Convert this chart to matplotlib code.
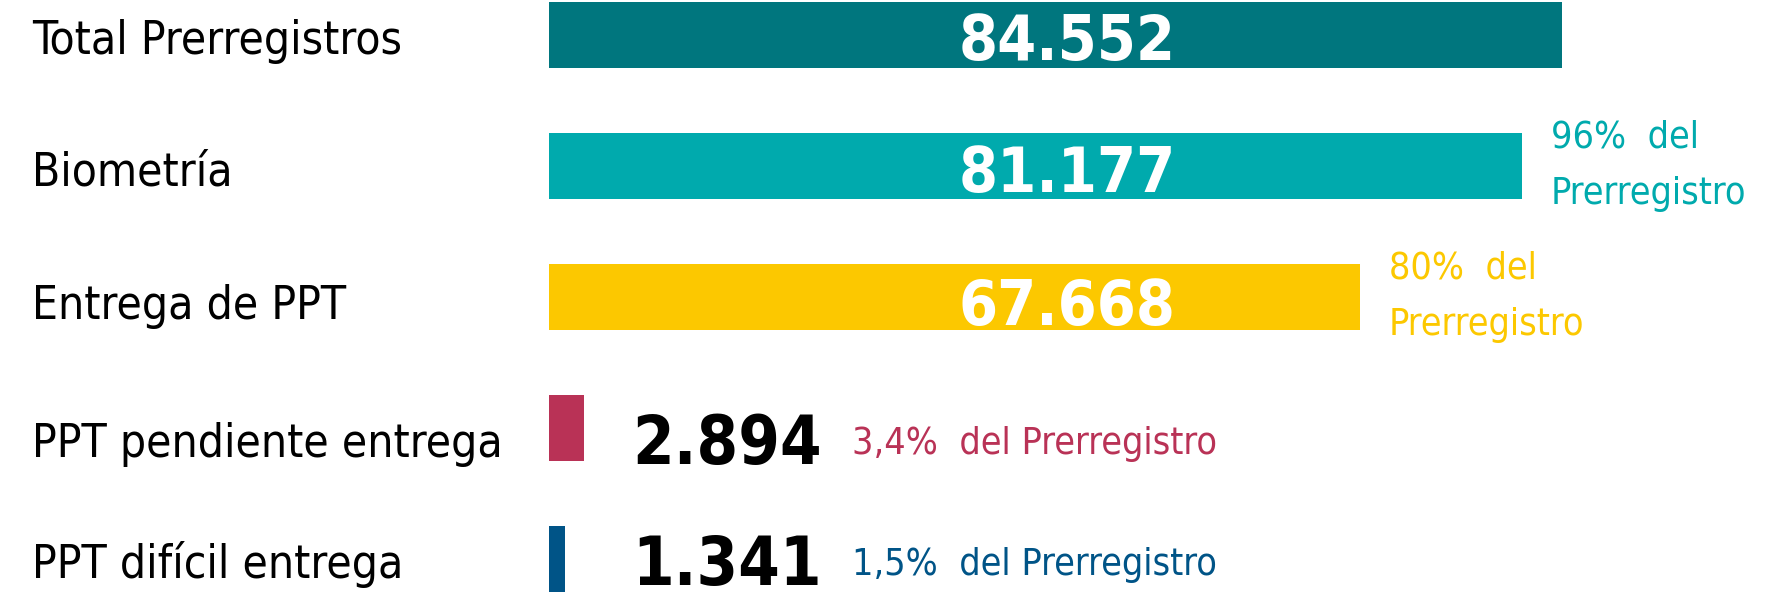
import matplotlib
matplotlib.use("Agg")
import matplotlib.pyplot as plt
import matplotlib.transforms as mtransforms

# data
categories = ["Total Prerregistros", "Biometría", "Entrega de PPT",
              "PPT pendiente entrega", "PPT difícil entrega"]
values = [84552, 81177, 67668, 2894, 1341]
value_labels = ["84.552", "81.177", "67.668", "2.894", "1.341"]
pct_labels = [None, "96%  del\nPrerregistro", "80%  del\nPrerregistro",
              "3,4%  del Prerregistro", "1,5%  del Prerregistro"]
colors = ["#00767E", "#00AAAD", "#FCC800", "#B93256", "#005487"]

plt.rcParams['font.family'] = ['DejaVu Sans Condensed', 'Liberation Sans Narrow',
                               'DejaVu Sans']
plt.rcParams['font.stretch'] = 'condensed'

fig = plt.figure(figsize=(17.71, 5.93), dpi=100)
# bars start at x=549px, full bar ends at 1562px
ax = fig.add_axes([549 / 1771, 0, (1562 - 549) / 1771, 1])
ax.set_xlim(0, values[0])
ypos = list(range(len(categories)))
ax.set_ylim(4 + 34 / 131, -35 / 131)
ax.axis("off")

ax.barh(ypos, values, height=0.5, color=colors)

lab_trans = mtransforms.blended_transform_factory(fig.transFigure, ax.transData)
axfrac = mtransforms.blended_transform_factory(ax.transAxes, ax.transData)

# text in each row sits a little below the bar centre (pixels)
row_drop = [2, 3, 5, 12, 2]


def cap_shift(trans, size, drop=0):
    # push a baseline-aligned text down by half its cap height
    return mtransforms.offset_copy(trans, fig=fig, x=0,
                                   y=-0.73 * size / 2 - drop * 0.72,
                                   units="points")


for i, (cat, val, vl, pl, col) in enumerate(zip(categories, values, value_labels,
                                                  pct_labels, colors)):
    d = row_drop[i]
    ax.text(32 / 1771, i, cat, transform=cap_shift(lab_trans, 33, d), ha="left",
            va="baseline", fontsize=33, color="black", clip_on=False)
    big = val > values[0] * 0.5
    if big:
        ax.text(0.404, i, vl, transform=cap_shift(axfrac, 45, d), ha="left",
                va="baseline", fontsize=45, fontweight="bold", color="white")
        if pl:
            off = mtransforms.offset_copy(ax.transData, fig=fig, x=21, y=0,
                                          units="points")
            ax.text(val, i, pl, transform=off, ha="left", va="center",
                    fontsize=27, color=col, linespacing=1.72, clip_on=False)
    else:
        ax.text(0.082, i, vl, transform=cap_shift(axfrac, 48, d), ha="left",
                va="baseline", fontsize=48, fontweight="bold", color="black")
        ax.text(0.299, i, pl, transform=cap_shift(axfrac, 27, d), ha="left",
                va="baseline", fontsize=27, color=col)

fig.savefig("out.png", dpi=100, facecolor="white")
